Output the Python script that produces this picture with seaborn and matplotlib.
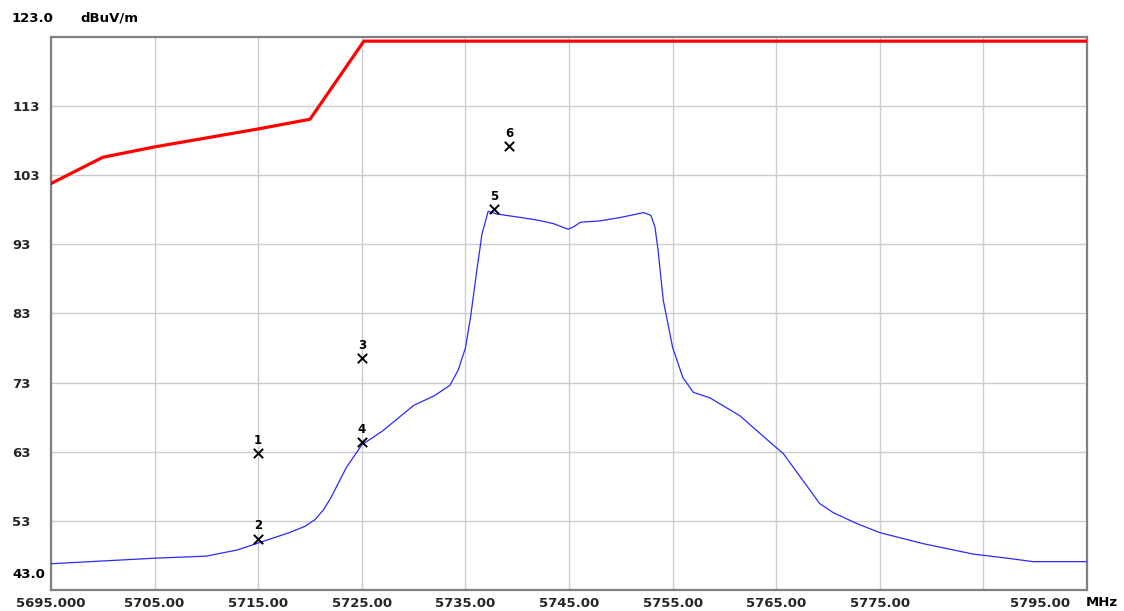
import numpy as np
import pandas as pd
import matplotlib
matplotlib.use("Agg")
import matplotlib.pyplot as plt
import matplotlib.transforms as mtransforms
import seaborn as sns

# measured trace (blue), MHz / dBuV/m
trace_freq = [5695, 5700, 5705, 5710, 5713, 5715, 5718, 5719.5, 5720.5, 5721.3,
              5722, 5723.5, 5725, 5727, 5730, 5732, 5733.5, 5734.3, 5735.0,
              5735.5, 5736.1, 5736.6, 5737.2, 5738, 5740.3, 5742, 5743.5,
              5744.9, 5745.4, 5746.1, 5748, 5750, 5752.2, 5752.9, 5753.3,
              5753.6, 5754.1, 5755.0, 5756.0, 5757.0, 5758.6, 5761.5, 5763.7,
              5765.7, 5767.6, 5769.2, 5770.5, 5772.8, 5775.0, 5779.2, 5784.0,
              5787.3, 5789.8, 5795]
trace_level = [46.8, 47.2, 47.6, 47.9, 48.8, 49.8, 51.3, 52.2, 53.2, 54.6,
               56.3, 60.7, 64.0, 66.0, 69.7, 71.1, 72.6, 74.8, 78.0,
               82.5, 89.2, 94.5, 97.8, 97.4, 96.9, 96.5, 96.0,
               95.2, 95.5, 96.2, 96.4, 96.9, 97.6, 97.2, 95.5,
               92.1, 84.9, 78.1, 73.7, 71.6, 70.8, 68.2, 65.3,
               62.7, 58.8, 55.5, 54.2, 52.6, 51.3, 49.7, 48.2,
               47.6, 47.1, 47.1]

# limit line (red)
limit_freq = [5695, 5700, 5705, 5715, 5720, 5725.2, 5795]
limit_level = [101.8, 105.6, 107.1, 109.7, 111.1, 122.4, 122.4]

# markers
marker_ids = ["1", "2", "3", "4", "5", "6"]
marker_freq = [5715, 5715, 5725, 5725, 5737.8, 5739.2]
marker_level = [62.8, 50.4, 76.5, 64.4, 98.1, 107.2]

x_ticks = [5695, 5705, 5715, 5725, 5735, 5745, 5755, 5765, 5775, 5785, 5795]
x_labels = ["5695.000", "5705.00", "5715.00", "5725.00", "5735.00", "5745.00",
            "5755.00", "5765.00", "5775.00", "", "5795.00"]
y_ticks = [53, 63, 73, 83, 93, 103, 113]
y_min, y_max = 43, 123

trace = pd.DataFrame({"freq": trace_freq, "level": trace_level})
limit = pd.DataFrame({"freq": limit_freq, "level": limit_level})
marks = pd.DataFrame({"freq": marker_freq, "level": marker_level, "id": marker_ids})

sns.set_style("white")
plt.rcParams["font.family"] = ["DejaVu Sans"]

fig = plt.figure(figsize=(11.24, 6.11), dpi=100)
ax = fig.add_axes([51 / 1124, 1 - 590 / 611, (1087 - 51) / 1124, (590 - 37) / 611])

sns.lineplot(data=limit, x="freq", y="level", color="#ff0000", linewidth=2.3,
             ax=ax, zorder=3)
sns.lineplot(data=trace, x="freq", y="level", color="#2a2aff", linewidth=0.9,
             ax=ax, zorder=4)
sns.scatterplot(data=marks, x="freq", y="level", marker="x", color="black",
                s=45, linewidth=1.4, ax=ax, zorder=5)
for _, r in marks.iterrows():
    ax.annotate(r["id"], (r["freq"], r["level"]), xytext=(0, 13),
                textcoords="offset pixels", ha="center", va="center",
                fontsize=8.5, fontweight="bold", color="black")

ax.set_xlim(5695, 5795)
ax.set_ylim(y_min, y_max)
ax.set_xlabel("")
ax.set_ylabel("")

ax.set_xticks(x_ticks)
ax.set_xticklabels(x_labels, fontsize=9.5, fontweight="bold")
ax.set_yticks(y_ticks)
ax.set_yticklabels([str(v) for v in y_ticks], fontsize=9.5, fontweight="bold",
                   ha="left")
ax.tick_params(axis="y", length=0, pad=28)
ax.tick_params(axis="x", length=0, pad=5)

# shift last x label left to make room for the unit
last = ax.get_xticklabels()[-1]
last.set_transform(last.get_transform() +
                   mtransforms.ScaledTranslation(-0.47, 0, fig.dpi_scale_trans))

ax.grid(True, color="#cccccc", linewidth=1)
for sp in ax.spines.values():
    sp.set_color("#808080")
    sp.set_linewidth(1.6)

lbl = dict(fontsize=9.5, fontweight="bold", color="black")
ax.annotate("123.0", (0, y_max), xycoords=("axes fraction", "data"),
            xytext=(-39, 19), textcoords="offset pixels", ha="left", va="center", **lbl)
ax.annotate("dBuV/m", (0, y_max), xycoords=("axes fraction", "data"),
            xytext=(29, 19), textcoords="offset pixels", ha="left", va="center", **lbl)
ax.annotate("43.0", (0, y_min), xycoords=("axes fraction", "data"),
            xytext=(-39, 15), textcoords="offset pixels", ha="left", va="center", **lbl)
ax.annotate("MHz", (1, 0), xycoords="axes fraction",
            xytext=(15, -13), textcoords="offset pixels", ha="center", va="center", **lbl)

fig.savefig("out.png", dpi=100)
plt.close(fig)
